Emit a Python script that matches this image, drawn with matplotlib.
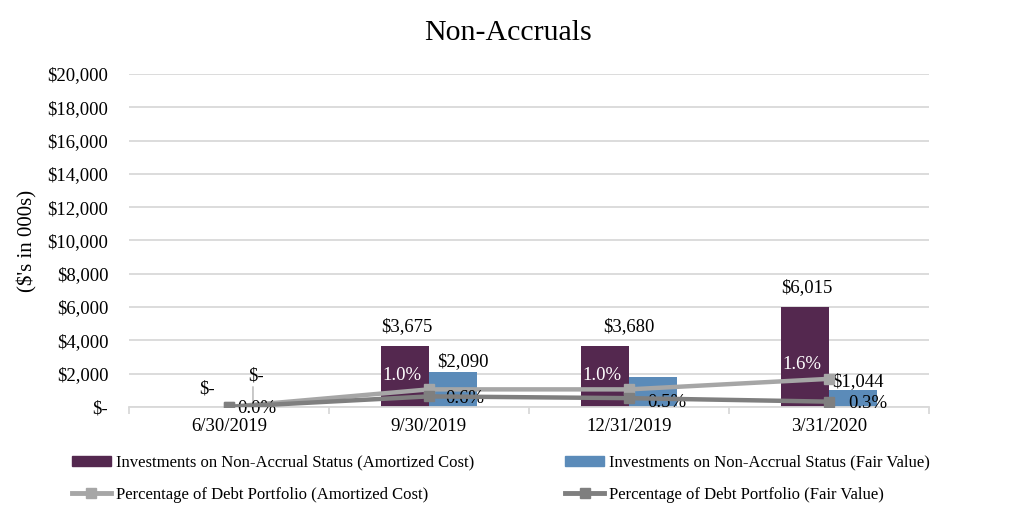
import matplotlib
matplotlib.use('Agg')
import matplotlib.pyplot as plt
import numpy as np
from matplotlib.lines import Line2D
from matplotlib.patches import Patch

plt.rcParams['font.family'] = ['Liberation Serif', 'DejaVu Serif']

dates = ['6/30/2019', '9/30/2019', '12/31/2019', '3/31/2020']
amortized = [0, 3675, 3680, 6015]
fair_value = [0, 2090, 1800, 1044]
pct_amortized = [0.0, 1.0, 1.0, 1.6]
pct_fair = [0.0, 0.6, 0.5, 0.3]

PURPLE = '#54284F'
BLUE = '#5B8BB9'
LIGHT = '#A6A6A6'
DARK = '#7F7F7F'
FS = 13.5

def money(v):
    return '$-' if v == 0 else f'${v:,.0f}'

fig = plt.figure(figsize=(10.16, 5.21), dpi=100)
ax = fig.add_axes([0.127, 0.219, 0.787, 0.639])
x = np.arange(len(dates))
w = 0.24

ax.bar(x - w / 2, amortized, w, color=PURPLE, zorder=2)
ax.bar(x + w / 2, fair_value, w, color=BLUE, zorder=2)

ax.set_xlim(-0.5, 3.5)
ax.set_ylim(0, 20000)
ax.set_yticks(range(0, 20001, 2000))
ax.yaxis.set_major_formatter(plt.FuncFormatter(lambda v, p: money(v)))
ax.grid(axis='y', color='#D9D9D9', linewidth=1.3, zorder=0)
for s in ['top', 'right', 'left']:
    ax.spines[s].set_visible(False)
ax.spines['bottom'].set_color('#D9D9D9')
ax.spines['bottom'].set_linewidth(1.3)
ax.set_xticks(x)
ax.set_xticklabels(dates, fontsize=FS)
ax.set_xticks(np.arange(-0.5, 3.6, 1), minor=True)
ax.tick_params(axis='x', which='major', length=0, pad=8)
ax.tick_params(axis='x', which='minor', length=5, color='#D9D9D9', width=1.3)
ax.tick_params(axis='y', length=0, labelsize=FS, pad=15)
ax.set_ylabel("($'s in 000s)", fontsize=15, labelpad=7)

# bar value labels, centre offsets in pixels
am_off = [(2, 18), (2, 19), (24, 19), (2, 19)]
fv_off = [(3, 31), (10, 11), (0, 10), (5, 8)]
for i, v in enumerate(amortized):
    ax.annotate(money(v), (x[i] - w / 2, v), xytext=am_off[i], textcoords='offset pixels',
                ha='center', va='center', fontsize=FS)
for i, v in enumerate(fair_value):
    if i == 2:
        continue
    ax.annotate(money(v), (x[i] + w / 2, v), xytext=fv_off[i], textcoords='offset pixels',
                ha='center', va='center', fontsize=FS)
# leader line for the zero fair value label
ax.annotate('', (x[0] + w / 2, 0), xytext=(0, 20), textcoords='offset pixels',
            arrowprops=dict(arrowstyle='-', color='#BFBFBF', lw=1.2, shrinkA=0, shrinkB=0))

ax2 = ax.twinx()
ax2.set_ylim(0, 19)
ax2.axis('off')
ax2.plot(x, pct_amortized, color=LIGHT, lw=3.2, marker='s', ms=7, zorder=3)
ax2.plot(x, pct_fair, color=DARK, lw=3.2, marker='s', ms=7, zorder=4)

for i, v in enumerate(pct_amortized):
    if i == 0:
        continue
    ax2.annotate(f'{v:.1f}%', (x[i], v), xytext=(-27, 14), textcoords='offset pixels',
                 ha='center', va='center', fontsize=FS, color='white')
pf_dx = [8, 16, 18, 20]
pf_dy = [-2, -2, -4, -2]
for i, v in enumerate(pct_fair):
    ax2.annotate(f'{v:.1f}%', (x[i], v), xytext=(pf_dx[i], pf_dy[i]), textcoords='offset pixels',
                 ha='left', va='center', fontsize=FS, color='black')

fig.text(0.5, 0.936, 'Non-Accruals', ha='center', va='center', fontsize=21.5)

handles = [Patch(color=PURPLE),
           Line2D([], [], color=LIGHT, lw=3.5, marker='s', ms=7),
           Patch(color=BLUE),
           Line2D([], [], color=DARK, lw=3.5, marker='s', ms=7)]
labels = ['Investments on Non-Accrual Status (Amortized Cost)',
          'Percentage of Debt Portfolio (Amortized Cost)',
          'Investments on Non-Accrual Status (Fair Value)',
          'Percentage of Debt Portfolio (Fair Value)']
fig.legend(handles, labels, ncol=2, loc='upper left', bbox_to_anchor=(0.0645, 0.14),
           frameon=False, fontsize=12, handlelength=2.3, handleheight=0.6,
           handletextpad=0.3, columnspacing=5.5, labelspacing=0.95, borderaxespad=0)

fig.savefig('out.png', dpi=100)
